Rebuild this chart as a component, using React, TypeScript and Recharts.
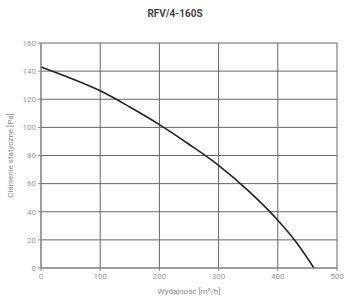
import { LineChart, Line, XAxis, YAxis, CartesianGrid, Label } from 'recharts';

const flow = [0, 50, 100, 150, 200, 250, 300, 350, 400, 430, 461];
const pressure = [143, 135, 126, 114.5, 102, 88, 73, 55, 34, 19, 0];
const xTicks = [0, 100, 200, 300, 400, 500];
const yTicks = [0, 20, 40, 60, 80, 100, 120, 140, 160];

const data = flow.map((q, i) => ({ q, p: pressure[i] }));

const font = 'Roboto, "Open Sans", sans-serif';

const App = () => (
    <div style={{ position: 'absolute', left: 0, top: 0, width: 350, height: 304, background: '#fff', fontFamily: font }}>
        <div style={{ position: 'absolute', top: 8, left: 0, width: 350, textAlign: 'center', fontSize: 10, fontWeight: 700, color: '#444' }}>
            RFV/4-160S
        </div>
        <LineChart width={350} height={304} data={data} margin={{ top: 43, right: 13, bottom: 6, left: 0 }}>
            <CartesianGrid stroke="#666" strokeWidth={1} />
            <XAxis
                dataKey="q"
                type="number"
                domain={[0, 500]}
                ticks={xTicks}
                height={30}
                stroke="#888"
                tickSize={3}
                tick={{ fontSize: 8, fill: '#999', fontFamily: font }}
            >
                <Label value="Wydajność [m³/h]" position="insideBottom" offset={4} style={{ fontSize: 8, fill: '#888', fontFamily: font }} />
            </XAxis>
            <YAxis
                type="number"
                domain={[0, 160]}
                ticks={yTicks}
                width={41}
                stroke="#888"
                tickSize={3}
                tick={{ fontSize: 8, fill: '#999', fontFamily: font }}
            >
                <Label value="Ciśnienie statyczne [Pa]" angle={-90} position="insideLeft" offset={10} style={{ fontSize: 8, fill: '#888', fontFamily: font, textAnchor: 'middle' }} />
            </YAxis>
            <Line dataKey="p" type="monotone" stroke="#222" strokeWidth={1.6} dot={false} isAnimationActive={false} />
        </LineChart>
    </div>
);

export default App;
